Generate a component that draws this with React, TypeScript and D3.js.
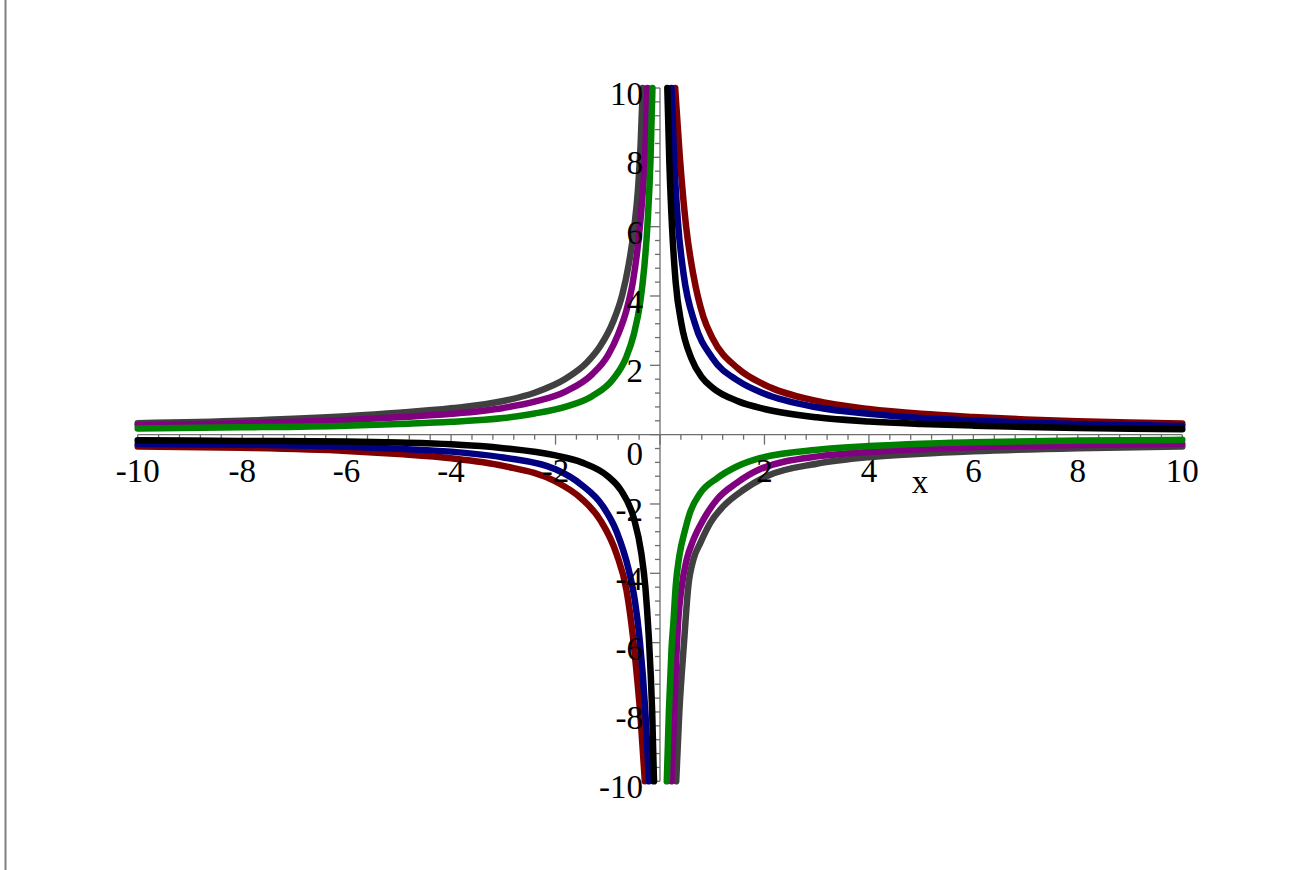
import React from "react";
import * as d3 from "d3";

type Pt = [number, number];

// tick labels
const xTickLabels = [-10, -8, -6, -4, -2, 2, 4, 6, 8, 10];
const yTickLabels = [10, 8, 6, 4, 2, -2, -4, -6, -8, -10];
const axisTitle = "x";

// curves, one array per branch
const redRight: Pt[] = [
  [0.29, 10], [0.38, 8], [0.5, 6], [0.64, 4.6], [0.83, 3.4], [1, 2.8], [1.5, 1.9],
  [2, 1.44], [3, 0.97], [4, 0.74], [5, 0.6], [6, 0.51], [7, 0.44], [8, 0.39], [9, 0.35], [10, 0.32],
];
const redLeft: Pt[] = [
  [-10, -0.34], [-8, -0.38], [-6, -0.47], [-5, -0.56], [-4, -0.68], [-3, -0.9], [-2, -1.35],
  [-1.5, -1.85], [-1.15, -2.45], [-0.83, -3.45], [-0.64, -4.5], [-0.52, -5.8], [-0.44, -7],
  [-0.37, -8.2], [-0.29, -10],
];
const blueRight: Pt[] = [
  [0.22, 10], [0.27, 8], [0.34, 6.2], [0.45, 4.65], [0.67, 3.2], [1, 2.22], [1.5, 1.55],
  [2, 1.18], [3, 0.79], [4, 0.6], [5, 0.48], [6, 0.41], [7, 0.35], [8, 0.31], [9, 0.28], [10, 0.25],
];
const blueLeft: Pt[] = [
  [-10, -0.27], [-8, -0.29], [-6, -0.35], [-5, -0.41], [-4, -0.49], [-3, -0.66], [-2, -1.0],
  [-1.5, -1.45], [-1.1, -2.05], [-0.83, -2.8], [-0.6, -3.9], [-0.48, -4.8], [-0.39, -5.9],
  [-0.28, -8], [-0.21, -10],
];
const blackRight: Pt[] = [
  [0.14, 10], [0.18, 7.8], [0.23, 6], [0.3, 4.4], [0.41, 3.2], [0.6, 2.2], [0.8, 1.66], [1, 1.36],
  [1.5, 0.96], [2, 0.74], [3, 0.5], [4, 0.38], [5, 0.31], [6, 0.26], [7, 0.22], [8, 0.19], [9, 0.17], [10, 0.155],
];
const blackLeft: Pt[] = [
  [-10, -0.16], [-8, -0.18], [-6, -0.2], [-5, -0.23], [-4, -0.28], [-3, -0.39], [-2, -0.6],
  [-1.5, -0.8], [-1, -1.2], [-0.75, -1.6], [-0.5, -2.42], [-0.36, -3.4], [-0.28, -4.4],
  [-0.22, -5.7], [-0.15, -8], [-0.115, -10],
];
const grayLeft: Pt[] = [
  [-10, 0.33], [-8, 0.4], [-6, 0.53], [-5, 0.63], [-4, 0.76], [-3, 0.97], [-2.4, 1.21],
  [-1.8, 1.62], [-1.4, 2.08], [-1.15, 2.54], [-0.9, 3.25], [-0.72, 4.05], [-0.6, 4.9],
  [-0.5, 5.9], [-0.42, 7.1], [-0.37, 8.4], [-0.33, 10],
];
const grayRight: Pt[] = [
  [0.31, -10], [0.37, -8], [0.46, -6], [0.54, -4.4], [0.64, -3.6], [0.77, -3.13], [0.96, -2.55],
  [1.21, -2.07], [1.6, -1.59], [2.04, -1.2], [3, -0.84], [4, -0.65], [5, -0.55], [6, -0.48],
  [8, -0.39], [10, -0.34],
];
const purpleLeft: Pt[] = [
  [-10, 0.27], [-8, 0.33], [-6, 0.42], [-5, 0.5], [-4, 0.6], [-3, 0.77], [-2.4, 0.95],
  [-1.8, 1.25], [-1.3, 1.74], [-1, 2.28], [-0.8, 2.9], [-0.64, 3.6], [-0.52, 4.4],
  [-0.42, 5.5], [-0.34, 6.8], [-0.28, 8.2], [-0.24, 10],
];
const purpleRight: Pt[] = [
  [0.22, -10], [0.27, -8], [0.35, -5.34], [0.415, -4.38], [0.51, -3.61], [0.64, -3.03],
  [0.83, -2.45], [1.09, -1.87], [1.47, -1.39], [1.91, -1.0], [3.06, -0.62], [4, -0.5],
  [5, -0.42], [6, -0.36], [8, -0.3], [10, -0.27],
];
const greenLeft: Pt[] = [
  [-10, 0.18], [-8, 0.21], [-6, 0.26], [-5, 0.31], [-4, 0.37], [-3, 0.48], [-2.4, 0.61],
  [-1.8, 0.81], [-1.3, 1.11], [-0.9, 1.6], [-0.65, 2.22], [-0.5, 2.9], [-0.38, 3.8],
  [-0.3, 4.85], [-0.24, 6.05], [-0.18, 8], [-0.145, 10],
];
const greenRight: Pt[] = [
  [0.13, -10], [0.17, -8], [0.22, -6.2], [0.26, -5.34], [0.3, -4.38], [0.37, -3.5],
  [0.48, -2.75], [0.57, -2.27], [0.77, -1.69], [1.09, -1.26], [1.47, -0.92], [1.91, -0.68],
  [3.06, -0.43], [4, -0.33], [5, -0.26], [6, -0.22], [8, -0.17], [10, -0.15],
];

const curves = [
  { color: "#800000", parts: [redLeft, redRight] },
  { color: "#000080", parts: [blueLeft, blueRight] },
  { color: "#000000", parts: [blackLeft, blackRight] },
  { color: "#404040", parts: [grayLeft, grayRight] },
  { color: "#800080", parts: [purpleLeft, purpleRight] },
  { color: "#008000", parts: [greenLeft, greenRight] },
];

const W = 1312;
const H = 870;
const font = "'Liberation Serif', 'Times New Roman', serif";

export default function App() {
  const x = d3.scaleLinear().domain([-10, 10]).range([137.7, 1182.3]);
  const y = d3.scaleLinear().domain([-10, 10]).range([781.3, 88]);

  const line = d3
    .line<Pt>()
    .x((d) => x(d[0]))
    .y((d) => y(d[1]))
    .curve(d3.curveMonotoneX);

  // minor ticks every 0.4
  const minor = d3.range(0, 51).map((i) => -10 + i * 0.4);
  const x0 = x(0);
  const y0 = y(0);

  return (
    <svg
      width={W}
      height={H}
      style={{ position: "absolute", left: 0, top: 0, background: "#fff" }}
    >
      <line x1={5.5} x2={5.5} y1={0} y2={H} stroke="#808080" strokeWidth={2} />

      {/* axes */}
      <g stroke="#6e6e6e" strokeWidth={1.3}>
        <line x1={x(-10)} x2={x(10)} y1={y0} y2={y0} />
        <line x1={x0} x2={x0} y1={y(10)} y2={y(-10)} />
        {minor.map((v, i) => {
          const major = i % 5 === 0;
          return (
            <g key={i}>
              <line x1={x(v)} x2={x(v)} y1={y0} y2={y0 + (major ? 10 : 5)} />
              <line x1={x0} x2={x0 - (major ? 10 : 5)} y1={y(v)} y2={y(v)} />
            </g>
          );
        })}
      </g>

      {/* curves */}
      <g fill="none" strokeWidth={6.5} strokeLinecap="round" strokeLinejoin="round">
        {curves.map((c) =>
          c.parts.map((p, j) => (
            <path key={c.color + j} d={line(p) || ""} stroke={c.color} />
          ))
        )}
      </g>

      {/* labels */}
      <g fontFamily={font} fontSize={33} fill="#000">
        {xTickLabels.map((v) => (
          <text key={"x" + v} x={x(v)} y={y0 + 47} textAnchor="middle">
            {v}
          </text>
        ))}
        {yTickLabels.map((v) => (
          <text key={"y" + v} x={643} y={y(v) + 17} textAnchor="end">
            {v}
          </text>
        ))}
        <text x={643} y={465} textAnchor="end">
          0
        </text>
        <text x={920} y={493} textAnchor="middle">
          {axisTitle}
        </text>
      </g>
    </svg>
  );
}
